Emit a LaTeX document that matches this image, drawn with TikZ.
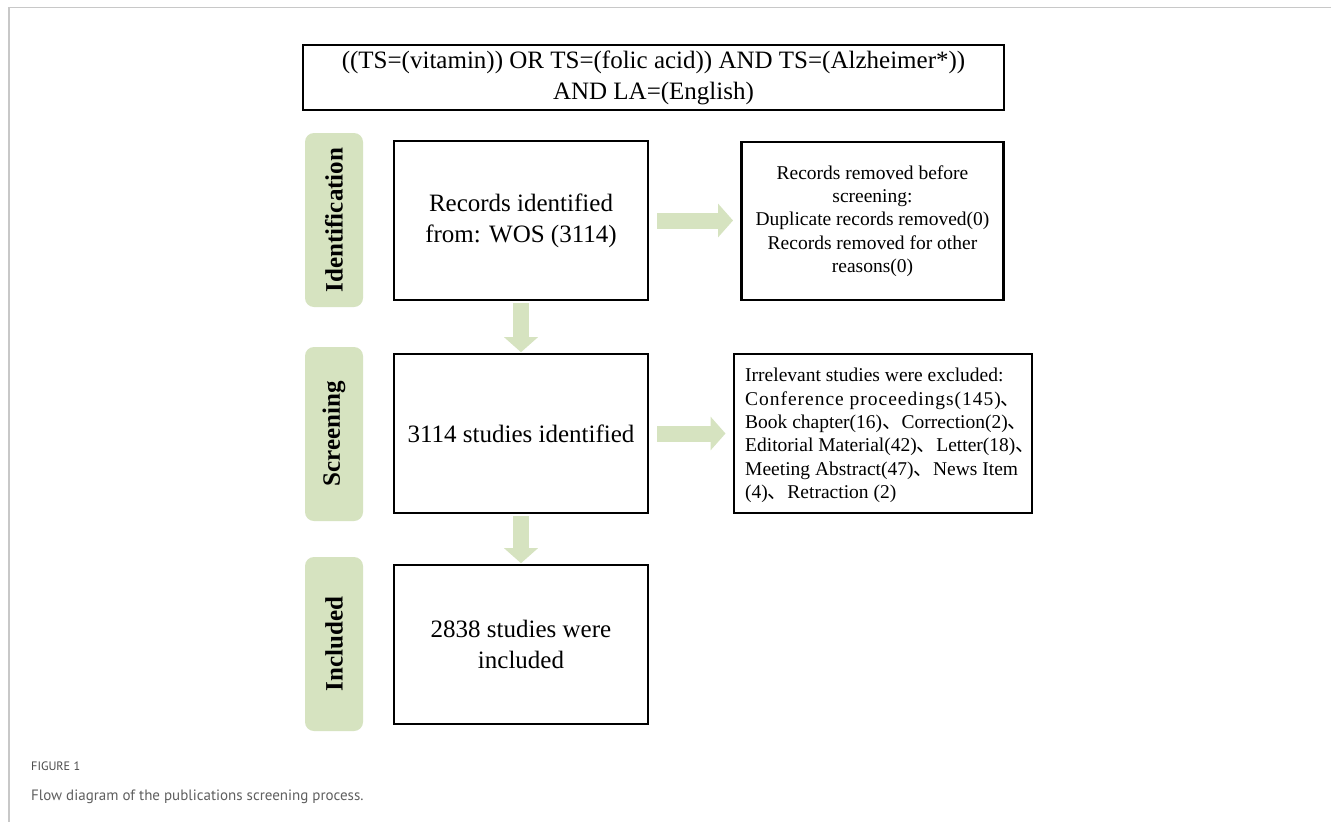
\documentclass[tikz,border=0pt]{standalone}
\usepackage{fontspec}
\setmainfont{Liberation Serif}
\newfontfamily\cjk{Noto Sans CJK SC}
\newfontfamily\capfont{PT Sans}
\usetikzlibrary{arrows.meta}
\definecolor{sage}{RGB}{214,227,192}
\definecolor{framegray}{RGB}{200,200,200}
\definecolor{capgray}{RGB}{75,75,75}
\definecolor{capgraylight}{RGB}{95,95,95}
\newcommand{\dunhao}{{\cjk 、}}
\begin{document}
\begin{tikzpicture}[x=1pt,y=-1pt,
  box/.style={draw=black, line width=2.6pt, minimum width=254pt, minimum height=159pt,
    inner sep=0pt, align=center, font=\fontsize{25}{31}\selectfont},
  sidebox/.style={fill=sage, rounded corners=9pt, minimum width=174pt, minimum height=58pt,
    rotate=90, inner sep=0pt, font=\fontsize{25}{30}\selectfont\bfseries},
  fat/.style={color=sage, line width=16pt, -{Triangle[width=33pt,length=15pt]}},
]
\useasboundingbox (0,0) rectangle (1331,822);
\fill[white] (0,0) rectangle (1331,822);
% frame
\draw[framegray, line width=1.5pt] (9,822) -- (9,7.5) -- (1331,7.5);

% query box
\node[draw=black, line width=2.4pt, minimum width=701pt, minimum height=65pt, inner sep=0pt,
  align=center, font=\fontsize{25}{31}\selectfont] (query) at (653.5,77.5)
  {((TS=(vitamin)) OR TS=(folic acid)) AND TS=(Alzheimer*))\\AND LA=(English)};

% stage labels
\node[sidebox] (lid) at (334,220) {Identification};
\node[sidebox] (lsc) at (334,434) {Screening};
\node[sidebox] (lin) at (334,644) {Included};

% main boxes
\node[box] (rec) at (521,220.5) {Records identified\\from: WOS (3114)};
\node[box] (scr) at (521,433.5) {3114 studies identified};
\node[box] (inc) at (521,644.5) {2838 studies were\\included};

% side boxes
\node[box, minimum width=262pt, minimum height=158pt, font=\fontsize{19.5}{23.3}\selectfont]
  (removed) at (872.5,221)
  {Records removed before\\screening:\\Duplicate records removed(0)\\Records removed for other\\reasons(0)};
\node[box, minimum width=298pt, minimum height=159pt] (excluded) at (883,433.5) {};
\node[anchor=west, inner sep=0pt, font=\fontsize{19.5}{23.3}\selectfont] (exctext) at (745,435.5)
  {\begin{tabular}{@{}l@{}}
   Irrelevant studies were excluded:\\
   {\addfontfeature{LetterSpace=5}Conference proceedings(145)}\dunhao\\
   Book chapter(16)\dunhao Correction(2)\dunhao\\
   Editorial Material(42)\dunhao Letter(18)\dunhao\\
   Meeting Abstract(47)\dunhao News Item\\
   (4)\dunhao Retraction (2)
   \end{tabular}};

% arrows
\draw[fat, shorten <=7.7pt, shorten >=7.2pt] (rec.east) -- (removed.west |- rec.east);
\draw[fat, shorten <=7.7pt, shorten >=7.2pt] (scr.east) -- (excluded.west);
\draw[fat, shorten <=2pt, shorten >=0.5pt] (rec.south) -- (scr.north);
\draw[fat, shorten <=2pt, shorten >=0.5pt] (scr.south) -- (inc.north);

% caption
\node[anchor=base west, inner sep=0pt, text=capgray, font=\capfont\fontsize{12.2}{15}\selectfont]
  (figlabel) at (31,770) {FIGURE 1};
\node[anchor=base west, inner sep=0pt, text=capgraylight, font=\capfont\fontsize{15}{18}\selectfont]
  (figcap) at (31,800) {Flow diagram of the publications screening process.};
\end{tikzpicture}
\end{document}
